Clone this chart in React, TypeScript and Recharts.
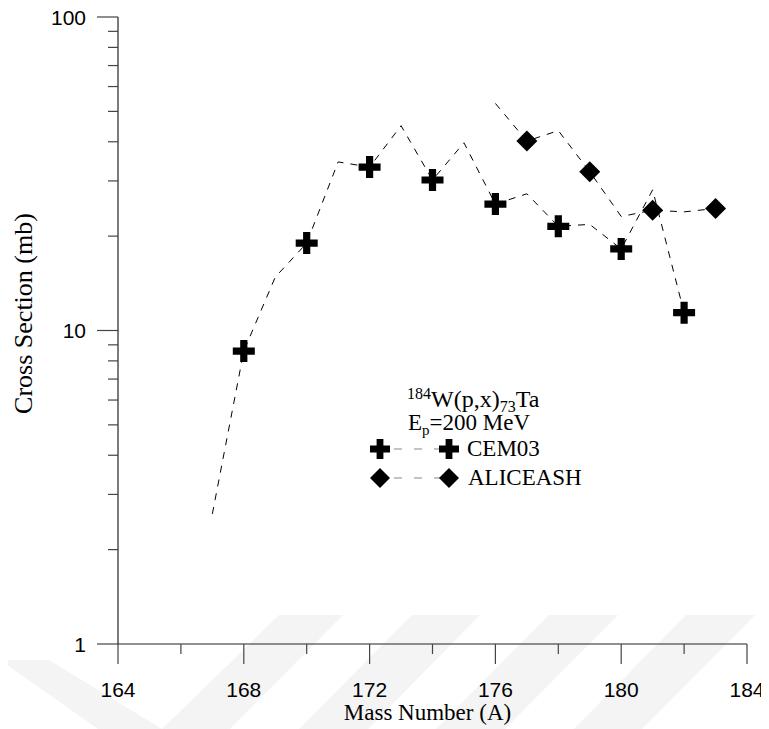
import React from 'react';
import { ComposedChart, Line, Scatter, XAxis, YAxis } from 'recharts';

// CEM03 calculated curve (every mass number) and its plotted markers
const cemMass = [167, 168, 169, 170, 171, 172, 173, 174, 175, 176, 177, 178, 179, 180, 181, 182];
const cemLine = [2.6, 8.6, 14.8, 19.0, 34.5, 33.2, 45.0, 30.2, 39.7, 25.3, 27.3, 21.5, 21.8, 18.2, 28.1, 11.4];
const cemMarkMass = [168, 170, 172, 174, 176, 178, 180, 182];
const cemMark = [8.6, 19.0, 33.2, 30.2, 25.3, 21.5, 18.2, 11.4];

// ALICEASH calculated curve and markers
const aliMass = [176, 177, 178, 179, 180, 181, 182, 183];
const aliLine = [53.0, 40.2, 43.4, 32.1, 23.1, 24.2, 23.9, 24.5];
const aliMarkMass = [177, 179, 181, 183];
const aliMark = [40.2, 32.1, 24.2, 24.5];

// Axis ticks
const xTicks = [164, 166, 168, 170, 172, 174, 176, 178, 180, 182, 184];
const xLabelTicks = [164, 168, 172, 176, 180, 184];
const yTicks = [1, 2, 3, 4, 5, 6, 7, 8, 9, 10, 20, 30, 40, 50, 60, 70, 80, 90, 100];
const yLabelTicks = [1, 10, 100];

const seriesNames = ['CEM03', 'ALICEASH'];

const toPts = (xs: number[], ys: number[]) => xs.map((x, i) => ({ x, y: ys[i] }));

const cemLineData = toPts(cemMass, cemLine);
const cemMarkData = toPts(cemMarkMass, cemMark);
const aliLineData = toPts(aliMass, aliLine);
const aliMarkData = toPts(aliMarkMass, aliMark);

const W = 761;
const H = 721;
const SANS = '"Liberation Sans", Arial, sans-serif';
const SERIF = '"Liberation Serif", "Times New Roman", serif';

const crossPath = (cx: number, cy: number, h: number, t: number) =>
  `M${cx - t},${cy - h}H${cx + t}V${cy - t}H${cx + h}V${cy + t}H${cx + t}V${cy + h}H${cx - t}V${cy + t}H${cx - h}V${cy - t}H${cx - t}Z`;
const diamondPath = (cx: number, cy: number, h: number) =>
  `M${cx},${cy - h}L${cx + h},${cy}L${cx},${cy + h}L${cx - h},${cy}Z`;

const Cross = (props: any) => {
  const { cx, cy } = props;
  if (cx == null || cy == null) return null;
  return <path d={crossPath(cx, cy, 11, 3.6)} fill="#000" />;
};
const Diamond = (props: any) => {
  const { cx, cy } = props;
  if (cx == null || cy == null) return null;
  return <path d={diamondPath(cx, cy, 10.5)} fill="#000" />;
};

const XTick = (props: any) => {
  const { x, y, payload } = props;
  const major = xLabelTicks.includes(payload.value);
  const len = major ? 20 : 10;
  return (
    <g>
      <line x1={x} y1={y} x2={x} y2={y + len} stroke="#444" strokeWidth={1.2} />
      {major && (
        <text x={x} y={y + 53} textAnchor="middle" fontFamily={SANS} fontSize={21} fill="#000">
          {payload.value}
        </text>
      )}
    </g>
  );
};

const YTick = (props: any) => {
  const { x, y, payload } = props;
  const major = yLabelTicks.includes(payload.value);
  const len = major ? 21 : 10;
  return (
    <g>
      <line x1={x - len} y1={y} x2={x} y2={y} stroke="#444" strokeWidth={1.2} />
      {major && (
        <text x={x - 32} y={y} dy="0.36em" textAnchor="end" fontFamily={SANS} fontSize={21} fill="#000">
          {payload.value}
        </text>
      )}
    </g>
  );
};

const XTitle = (props: any) => {
  const vb = props.viewBox || {};
  return (
    <text x={vb.x + vb.width / 2 - 5} y={vb.y + 76} textAnchor="middle" fontFamily={SERIF} fontSize={23} fill="#000">
      Mass Number (A)
    </text>
  );
};

const YTitle = (props: any) => {
  const vb = props.viewBox || {};
  const cx = 24;
  const cy = vb.y + vb.height / 2 - 17;
  return (
    <text
      x={cx}
      y={cy}
      transform={`rotate(-90 ${cx} ${cy})`}
      textAnchor="middle"
      fontFamily={SERIF}
      fontSize={26}
      fill="#000"
    >
      Cross Section (mb)
    </text>
  );
};

// faint background watermark stripes of the source page
const Watermark = () => (
  <svg width={W} height={H} style={{ position: 'absolute', left: 0, top: 0, pointerEvents: 'none' }}>
    <g fill="#f4f4f4">
      <polygon points="-8,652 41,652 154,721 90,721" />
      <polygon points="154,721 222,721 335,607 271,607" />
      <polygon points="291,721 360,721 472,607 404,607" />
      <polygon points="428,721 497,721 610,607 541,607" />
      <polygon points="566,721 634,721 747,607 678,607" />
    </g>
  </svg>
);

const Annotation = () => (
  <svg width={W} height={H} style={{ position: 'absolute', left: 0, top: 0, pointerEvents: 'none' }}>
    <g fontFamily={SERIF} fill="#000">
      <text x={399} y={399} fontSize={24}>
        <tspan fontSize={16} dy={-8}>184</tspan>
        <tspan dy={8}>W(p,x)</tspan>
        <tspan fontSize={16} dy={5}>73</tspan>
        <tspan dy={-5}>Ta</tspan>
      </text>
      <text x={400} y={422} fontSize={23}>
        <tspan>E</tspan>
        <tspan fontSize={15} dy={5}>p</tspan>
        <tspan dy={-5}>=200 MeV</tspan>
      </text>
      <line x1={372} y1={441} x2={441} y2={441} stroke="#888" strokeWidth={1.2} strokeDasharray="8 12" strokeDashoffset={-14} />
      <path d={crossPath(372, 441, 10, 3.4)} fill="#000" />
      <path d={crossPath(441, 441, 10, 3.4)} fill="#000" />
      <text x={459} y={448} fontSize={23}>{seriesNames[0]}</text>
      <line x1={372} y1={470} x2={441} y2={470} stroke="#888" strokeWidth={1.2} strokeDasharray="8 12" strokeDashoffset={-14} />
      <path d={diamondPath(372, 470, 10)} fill="#000" />
      <path d={diamondPath(441, 470, 10)} fill="#000" />
      <text x={460} y={477} fontSize={23}>{seriesNames[1]}</text>
    </g>
  </svg>
);

export default function App() {
  return (
    <div style={{ position: 'relative', width: W, height: H }}>
      <style>{'html,body{overflow:hidden}'}</style>
      <Watermark />
      <div style={{ position: 'absolute', left: 0, top: 0 }}>
        <ComposedChart width={W} height={H} margin={{ top: 9, right: 22, left: 0, bottom: 0 }}>
          <XAxis
            type="number"
            dataKey="x"
            domain={[164, 184]}
            ticks={xTicks}
            interval={0}
            tickLine={false}
            tickSize={0}
            tickMargin={0}
            tick={<XTick />}
            axisLine={{ stroke: '#222', strokeWidth: 1.2 }}
            height={85}
            allowDataOverflow
            label={<XTitle />}
          />
          <YAxis
            type="number"
            dataKey="y"
            scale="log"
            domain={[1, 100]}
            ticks={yTicks}
            interval={0}
            tickLine={false}
            tickSize={0}
            tickMargin={0}
            tick={<YTick />}
            axisLine={{ stroke: '#222', strokeWidth: 1.2 }}
            width={110}
            allowDataOverflow
            label={<YTitle />}
          />
          <Line
            data={cemLineData}
            dataKey="y"
            type="linear"
            stroke="#000"
            strokeWidth={1}
            strokeDasharray="7 7"
            dot={false}
            activeDot={false}
            isAnimationActive={false}
            name="CEM03 curve"
          />
          <Line
            data={aliLineData}
            dataKey="y"
            type="linear"
            stroke="#000"
            strokeWidth={1}
            strokeDasharray="7 7"
            dot={false}
            activeDot={false}
            isAnimationActive={false}
            name="ALICEASH curve"
          />
          <Scatter data={cemMarkData} dataKey="y" shape={<Cross />} isAnimationActive={false} name={seriesNames[0]} />
          <Scatter data={aliMarkData} dataKey="y" shape={<Diamond />} isAnimationActive={false} name={seriesNames[1]} />
        </ComposedChart>
      </div>
      <Annotation />
    </div>
  );
}
